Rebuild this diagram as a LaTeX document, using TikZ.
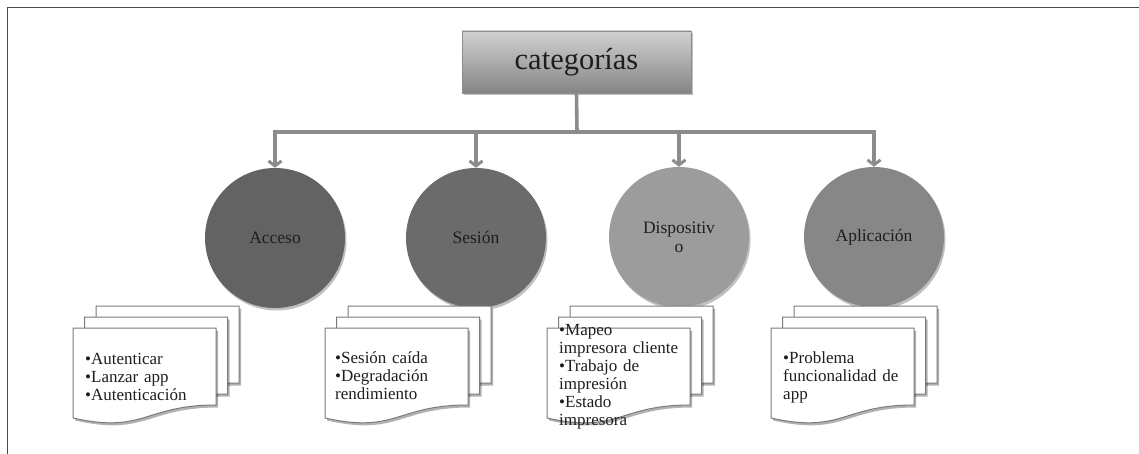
\documentclass[tikz,border=0pt]{standalone}
\usepackage{fontspec}
\setmainfont{Liberation Serif}
\usetikzlibrary{arrows.meta,shadows}
\definecolor{conncol}{HTML}{8C8C8C}
\definecolor{txtcol}{HTML}{1E1E1E}
\definecolor{pageedge}{HTML}{7A7A7A}
\definecolor{frameline}{HTML}{4A4A4A}
\begin{document}
\begin{tikzpicture}[x=1pt,y=-1pt,
  conn/.style={draw=conncol,line width=3.6pt},
  connarrow/.style={conn,-{Straight Barb[length=5pt,width=13pt,line width=3pt]}},
  catbox/.style={rectangle,minimum width=229pt,minimum height=62pt,draw=black!45,line width=0.6pt,
    top color=black!18,bottom color=black!48,text=txtcol,font=\fontsize{30.5}{34}\selectfont,
    drop shadow={shadow xshift=1.5pt,shadow yshift=-2pt,fill=black,opacity=0.25}},
  catcircle/.style={circle,minimum size=140pt,inner sep=0pt,text=txtcol,align=center,
    font=\fontsize{17.5}{19}\selectfont,
    drop shadow={shadow xshift=1.5pt,shadow yshift=-2.5pt,fill=black,opacity=0.25}},
  pagestyle/.style={draw=pageedge,line width=1pt,fill=white,
    drop shadow={shadow xshift=2pt,shadow yshift=-2.5pt,fill=black,opacity=0.3}},
  doctext/.style={inner sep=0pt,anchor=north west,text width=150pt,align=left,text=txtcol,
    font=\fontsize{17}{18}\selectfont},
  docpage/.pic={\path[pagestyle] (0,0) -- (143,0) -- (143,77) .. controls (71.5,77) and (71.5,106) .. (0,90) -- cycle;}
]
\useasboundingbox (0,0) rectangle (1139,454);
% frame
\draw[frameline,line width=1.6pt] (7.5,454) -- (7.5,7.5) -- (1139,7.5);

% top box
\node[catbox] (cat) at (576.5,62) {categorías};
\coordinate (bus) at (577,132);

% circles
\node[catcircle,fill=black!61] (acc) at (275,238) {Acceso};
\node[catcircle,fill=black!58] (ses) at (476,238) {Sesión};
\node[catcircle,fill=black!39] (dis) at (679,237) {Dispositiv\\o};
\node[catcircle,fill=black!47] (apl) at (874,237) {Aplicación};

% connectors
\draw[conn] (cat.south) -- (bus);
\draw[connarrow] (bus) -| (acc.north);
\draw[connarrow] (bus) -| (ses.north);
\draw[connarrow] (bus) -| (dis.north);
\draw[connarrow] (bus) -| (apl.north);

% document stacks
\foreach \px in {73,325,547,771}{
  \pic at (\px+23,306) {docpage};
  \pic at (\px+11.5,317) {docpage};
  \pic at (\px,328) {docpage};
}

\node[doctext] (tacc) at (85,351.4)
  {\strut\textbullet Autenticar\\\textbullet Lanzar app\\\textbullet Autenticación};
\node[doctext] (tses) at (335,350.4)
  {\strut\textbullet Sesión caída\\\textbullet Degradación\\rendimiento};
\node[doctext] (tdis) at (559,322.4)
  {\strut\textbullet Mapeo\\impresora cliente\\\textbullet Trabajo de\\impresión\\\textbullet Estado\\impresora};
\node[doctext] (tapl) at (783,350.4)
  {\strut\textbullet Problema\\funcionalidad de\\app};
\end{tikzpicture}
\end{document}
